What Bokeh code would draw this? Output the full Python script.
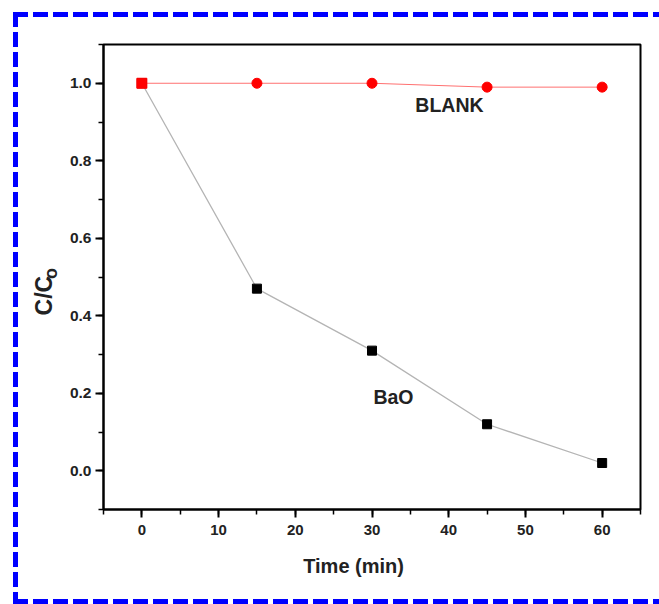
import math
from bokeh.plotting import figure
from bokeh.models import (ColumnDataSource, Label, SingleIntervalTicker,
                          PrintfTickFormatter, Range1d, InlineStyleSheet)
from bokeh.embed import file_html
from bokeh.resources import INLINE

# ---- data ----
time_min = [0, 15, 30, 45, 60]
bao = [1.0, 0.47, 0.31, 0.12, 0.02]
blank = [1.0, 1.0, 1.0, 0.99, 0.99]
blank_markers = ["square", "circle", "circle", "circle", "circle"]

FONT = "Liberation Sans"
TXT = "#222222"

# blue dashed frame around the whole picture (decoration drawn by CSS)
dash_h = "repeating-linear-gradient(90deg, #0000ff 0 15px, transparent 15px 20px)"
dash_v = "repeating-linear-gradient(180deg, #0000ff 0 15px, transparent 15px 20px)"
frame_css = InlineStyleSheet(css=f"""
:host::after {{
  content: "";
  position: absolute;
  left: 0; top: 0;
  width: 659px; height: 604px;
  pointer-events: none;
  z-index: 1000;
  background:
    {dash_h} 13px 12px / 646px 5px no-repeat,
    {dash_h} 13px 599px / 646px 5px no-repeat,
    {dash_v} 13px 12px / 5px 592px no-repeat;
}}
""")

p = figure(width=659, height=604, output_backend="svg", toolbar_location=None,
           x_range=Range1d(-5, 65), y_range=Range1d(-0.1, 1.1),
           min_border_left=103, min_border_right=19, min_border_top=44, min_border_bottom=95,
           stylesheets=[frame_css])
p.background_fill_color = "white"
p.border_fill_color = "white"
p.grid.visible = False
p.outline_line_color = "black"
p.outline_line_width = 2

# lines
p.line(time_min, bao, line_color="#b4b4b4", line_width=1.3)
p.line(time_min, blank, line_color="#ff7070", line_width=1)

# markers
p.scatter(time_min, bao, marker="square", size=9, fill_color="black", line_color="black")
src_blank = ColumnDataSource(dict(x=time_min, y=blank, m=blank_markers))
p.scatter("x", "y", marker="m", source=src_blank, size=10, fill_color="red", line_color="red")

# axes
for ax in (p.xaxis[0], p.yaxis[0]):
    ax.axis_line_width = 2
    ax.axis_line_color = "black"
    ax.major_tick_line_width = 2
    ax.minor_tick_line_width = 1.5
    ax.major_tick_in = 0
    ax.major_tick_out = 8
    ax.minor_tick_in = 0
    ax.minor_tick_out = 5
    ax.major_label_text_font = FONT
    ax.major_label_text_font_style = "bold"
    ax.major_label_text_color = TXT

p.xaxis.ticker = SingleIntervalTicker(interval=10, num_minor_ticks=2)
p.yaxis.ticker = SingleIntervalTicker(interval=0.2, num_minor_ticks=2)
p.yaxis.formatter = PrintfTickFormatter(format="%.1f")
p.xaxis.major_label_text_font_size = "15px"
p.yaxis.major_label_text_font_size = "15.5px"
p.xaxis.major_label_standoff = 7
p.yaxis.major_label_standoff = 4


def lab(x, y, text, size, place=None, angle=0.0):
    l = Label(x=x, y=y, text=text, angle=angle, text_align="center",
              text_baseline="middle", text_font=FONT, text_font_style="bold",
              text_font_size=size, text_color=TXT)
    if place:
        p.add_layout(l, place)
    else:
        p.add_layout(l)


# axis titles (placed in side panels so they are not clipped to the frame)
lab(27.6, -0.247, "Time (min)", "20px", "below")
lab(-12.82, 0.452, "C/C", "23px", "left", math.pi / 2)
lab(-11.78, 0.509, "o", "18px", "left", math.pi / 2)

# series labels
lab(40.1, 0.943, "BLANK", "19.5px")
lab(32.8, 0.19, "BaO", "19.5px")

open("out.html", "w").write(file_html(p, INLINE))
